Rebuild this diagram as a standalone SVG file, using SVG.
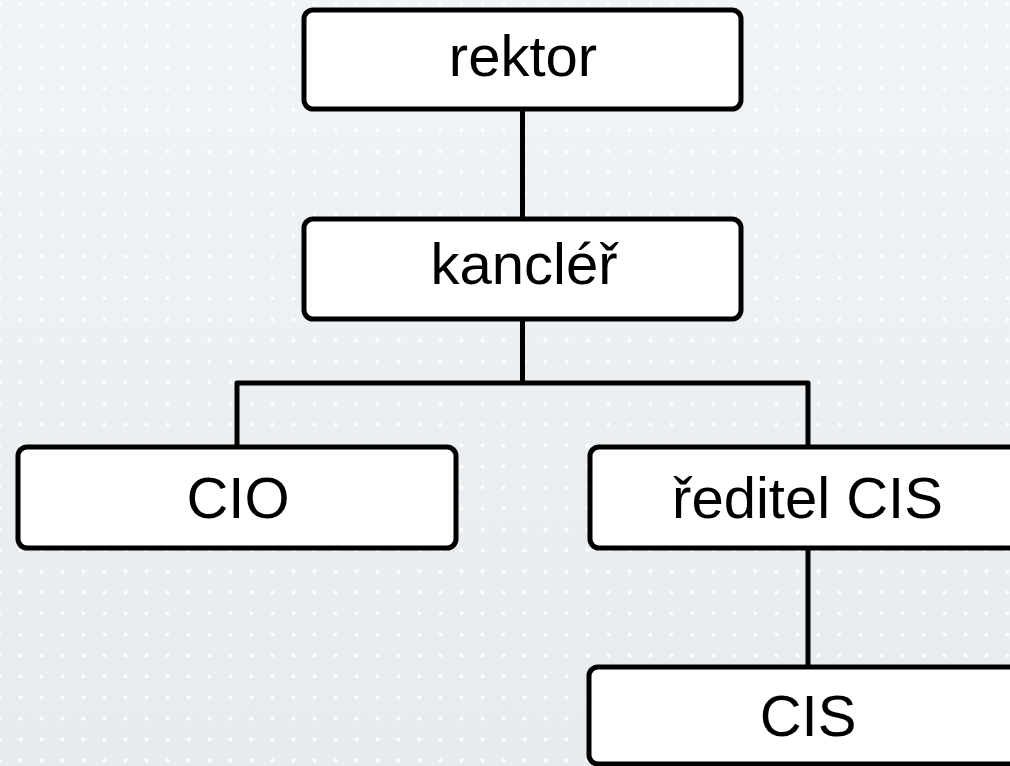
<svg xmlns="http://www.w3.org/2000/svg" width="1010" height="766" viewBox="0 0 1010 766">
  <defs>
    <linearGradient id="bg" x1="0" y1="0" x2="0" y2="1">
      <stop offset="0" stop-color="#f1f4f6"/>
      <stop offset="1" stop-color="#e6ebee"/>
    </linearGradient>
    <pattern id="dots" x="10" y="-6" width="21" height="21" patternUnits="userSpaceOnUse">
      <circle cx="10.5" cy="10.5" r="2" fill="#ffffff" fill-opacity="0.9"/>
    </pattern>
    <style>
      .box { fill: #ffffff; stroke: #000000; stroke-width: 5; }
      .lbl { font-family: "Liberation Sans", Arial, sans-serif; font-size: 58px; fill: #000000; text-anchor: middle; }
      .conn { fill: none; stroke: #000000; stroke-width: 5; stroke-linejoin: round; }
    </style>
  </defs>
  <rect x="0" y="0" width="1010" height="766" fill="url(#bg)"/>
  <rect x="0" y="0" width="1010" height="766" fill="url(#dots)"/>

  <g id="connectors">
    <path class="conn" d="M522.5 109 V219"/>
    <path class="conn" d="M522.5 319 V383 M237 447 V383 H808 V447"/>
    <path class="conn" d="M808 548 V667"/>
  </g>

  <g id="node-rektor">
    <rect class="box" x="304" y="10" width="437" height="99" rx="9"/>
    <text class="lbl" x="523" y="76">rektor</text>
  </g>
  <g id="node-kancler">
    <rect class="box" x="304" y="219" width="437" height="100" rx="9"/>
    <text class="lbl" x="524" y="284">kancléř</text>
  </g>
  <g id="node-cio">
    <rect class="box" x="18" y="447" width="438" height="101" rx="9"/>
    <text class="lbl" x="238" y="518">CIO</text>
  </g>
  <g id="node-reditel">
    <rect class="box" x="590" y="447" width="440" height="101" rx="9"/>
    <text class="lbl" x="807.5" y="518">ředitel CIS</text>
  </g>
  <g id="node-cis">
    <rect class="box" x="589" y="667" width="440" height="97" rx="9"/>
    <text class="lbl" x="808" y="736">CIS</text>
  </g>
</svg>
